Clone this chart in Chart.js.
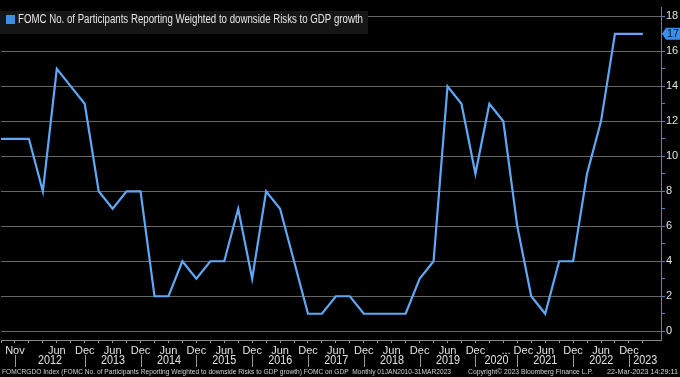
<!DOCTYPE html>
<html lang="en">
<head>
  <meta charset="UTF-8" />
  <title>FOMC downside risks to GDP growth</title>
  <script src="https://cdn.jsdelivr.net/npm/chart.js"></script>
  <style>
    body { margin:0; background:#000; }
    #wrap { width:680px; height:377px; }
  </style>
</head>
<body>
  <div id="wrap"><canvas id="chart" width="680" height="377"></canvas></div>

  <script>
    const SERIES_NAME = "FOMC No. of Participants Reporting Weighted to downside Risks to GDP growth";

    // SEP meetings (one point each)
    const MEETINGS = [
      "Jun 2011","Nov 2011","Jan 2012","Apr 2012","Jun 2012","Sep 2012","Dec 2012",
      "Mar 2013","Jun 2013","Sep 2013","Dec 2013",
      "Mar 2014","Jun 2014","Sep 2014","Dec 2014",
      "Mar 2015","Jun 2015","Sep 2015","Dec 2015",
      "Mar 2016","Jun 2016","Sep 2016","Dec 2016",
      "Mar 2017","Jun 2017","Sep 2017","Dec 2017",
      "Mar 2018","Jun 2018","Sep 2018","Dec 2018",
      "Mar 2019","Jun 2019","Sep 2019","Dec 2019",
      "Jun 2020","Sep 2020","Dec 2020",
      "Mar 2021","Jun 2021","Sep 2021","Dec 2021",
      "Mar 2022","Jun 2022","Sep 2022","Dec 2022",
      "Mar 2023"
    ];

    const PARTICIPANTS = [
      11, 11, 11, 8, 15, 14, 13,
      8, 7, 8, 8,
      2, 2, 4, 3,
      4, 4, 7, 3,
      8, 7, 4, 1,
      1, 2, 2, 1,
      1, 1, 1, 3,
      4, 14, 13, 9,
      13, 12, 6,
      2, 1, 4, 4,
      9, 12, 17, 17,
      17
    ];

    // month text shown under each meeting ('' = no label)
    const MONTH_TICKS = [
      "", "Nov", "", "", "Jun", "", "Dec",
      "", "Jun", "", "Dec",
      "", "Jun", "", "Dec",
      "", "Jun", "", "Dec",
      "", "Jun", "", "Dec",
      "", "Jun", "", "Dec",
      "", "Jun", "", "Dec",
      "", "Jun", "", "Dec",
      "", "", "... Dec",
      "", "Jun", "", "Dec",
      "", "Jun", "", "Dec",
      ""
    ];

    const Y_TICKS = [0,1,2,3,4,5,6,7,8,9,10,11,12,13,14,15,16,17,18];

    const FOOTER_LEFT = "FOMCRGDO Index (FOMC No. of Participants Reporting Weighted to downside Risks to GDP growth) FOMC on GDP  Monthly 01JAN2010-31MAR2023";
    const FOOTER_MID = "Copyright\u00A9 2023 Bloomberg Finance L.P.";
    const FOOTER_RIGHT = "22-Mar-2023 14:29:11";

    const FONT = "'Liberation Sans', Arial, sans-serif";
    const LINE_BLUE = "#5ea8f5";
    const AXIS_BLUE = "#4a86d0";

    // year row, separators, legend box, footer and last value badge
    const bbgDecor = {
      id: "bbgDecor",
      afterDraw(chart) {
        const ctx = chart.ctx;
        const xs = chart.scales.x, ys = chart.scales.y;
        const area = chart.chartArea;
        ctx.save();

        // year separators sit on the last meeting of each year
        const years = MEETINGS.map(m => m.split(" ")[1]);
        const seps = [];
        for (let i = 0; i < years.length - 1; i++) {
          if (years[i] !== years[i + 1]) seps.push({ i, year: years[i + 1] });
        }
        ctx.strokeStyle = "#9a9a9a";
        ctx.lineWidth = 1;
        ctx.font = "12px " + FONT;
        ctx.fillStyle = "#e2e2e2";
        ctx.textAlign = "center";
        ctx.textBaseline = "middle";
        seps.forEach((s, k) => {
          const x = Math.round(xs.getPixelForValue(s.i)) + 0.5;
          ctx.beginPath();
          ctx.moveTo(x, 355);
          ctx.lineTo(x, 367);
          ctx.stroke();
          const next = k + 1 < seps.length ? xs.getPixelForValue(seps[k + 1].i) : area.right;
          ctx.fillText(s.year, (x + next) / 2, 361, 24);
        });

        // legend box
        ctx.fillStyle = "#161616";
        ctx.fillRect(0, 11, 368, 23);
        ctx.fillStyle = "#3d8fe6";
        ctx.fillRect(6, 15, 9, 9);
        ctx.fillStyle = "#e6e6e6";
        ctx.textAlign = "left";
        ctx.font = "12.5px " + FONT;
        ctx.fillText(chart.data.datasets[0].label, 18, 20, 345);

        // footer
        ctx.font = "7.5px " + FONT;
        ctx.fillStyle = "#d0d0d0";
        ctx.textBaseline = "middle";
        ctx.fillText(FOOTER_LEFT, 2, 372, 449);
        ctx.fillText(FOOTER_MID, 468, 372, 125);
        ctx.textAlign = "right";
        ctx.fillText(FOOTER_RIGHT, 678, 372, 71);

        // last value badge
        const last = PARTICIPANTS[PARTICIPANTS.length - 1];
        const by = ys.getPixelForValue(last);
        const bx = area.right + 1;
        ctx.fillStyle = "#3a8fe8";
        ctx.beginPath();
        ctx.moveTo(bx, by);
        ctx.lineTo(bx + 4, by - 6);
        ctx.lineTo(680, by - 6);
        ctx.lineTo(680, by + 6);
        ctx.lineTo(bx + 4, by + 6);
        ctx.closePath();
        ctx.fill();
        ctx.fillStyle = "#06172c";
        ctx.font = "11px " + FONT;
        ctx.textAlign = "left";
        ctx.fillText(String(last), bx + 5, by + 0.5, 12);

        ctx.restore();
      }
    };

    new Chart(document.getElementById("chart"), {
      type: "line",
      data: {
        datasets: [{
          label: SERIES_NAME,
          data: PARTICIPANTS.map((v, i) => ({ x: i, y: v })),
          borderColor: LINE_BLUE,
          borderWidth: 2.2,
          pointRadius: 0,
          tension: 0,
          fill: false
        }]
      },
      options: {
        responsive: false,
        animation: false,
        layout: { padding: 0 },
        plugins: { legend: { display: false }, tooltip: { enabled: false } },
        scales: {
          x: {
            type: "linear",
            min: 0,
            max: 47.3,
            afterBuildTicks: s => { s.ticks = MEETINGS.map((m, i) => ({ value: i })); },
            afterFit: s => { s.height = 37; },
            ticks: {
              autoSkip: false,
              maxRotation: 0,
              padding: 1,
              color: "#e2e2e2",
              font: { family: FONT, size: 11 },
              callback: v => MONTH_TICKS[v] || ""
            },
            grid: { drawOnChartArea: false, tickLength: 3, color: "#9a9a9a" },
            border: { color: "#8a8a8a" }
          },
          y: {
            position: "right",
            min: -0.5,
            max: 18.5,
            afterBuildTicks: s => { s.ticks = Y_TICKS.map(v => ({ value: v })); },
            afterFit: s => { s.width = 19; },
            ticks: {
              padding: 1,
              color: "#e2e2e2",
              font: { family: FONT, size: 11 },
              callback: v => (v % 2 === 0 ? v : "")
            },
            grid: {
              color: c => (c.tick && c.tick.value % 2 === 0 ? "#666666" : "rgba(0,0,0,0)"),
              tickColor: AXIS_BLUE,
              tickLength: 4
            },
            border: { color: AXIS_BLUE }
          }
        }
      },
      plugins: [bbgDecor]
    });
  </script>
</body>
</html>
